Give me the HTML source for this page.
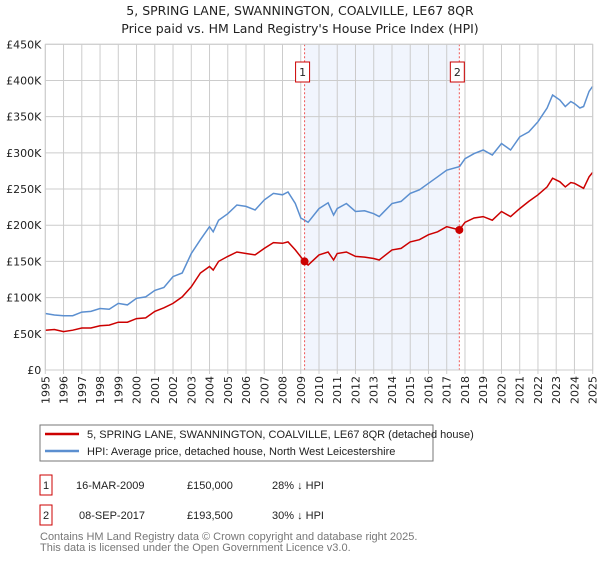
<!DOCTYPE html>
<html><head><meta charset="utf-8"><style>
body{margin:0;background:#fff;font-family:"Liberation Sans","DejaVu Sans",sans-serif;}
svg text{font-family:"DejaVu Sans","Liberation Sans",sans-serif;}
svg text.lib{font-family:"Liberation Sans","DejaVu Sans",sans-serif;}
</style></head><body>
<svg width="600" height="560" viewBox="0 0 600 560" xmlns="http://www.w3.org/2000/svg">
<text x="300" y="15" text-anchor="middle" font-size="12.5" fill="#222">5, SPRING LANE, SWANNINGTON, COALVILLE, LE67 8QR</text>
<text x="300" y="33" text-anchor="middle" font-size="12.5" fill="#222">Price paid vs. HM Land Registry's House Price Index (HPI)</text>
<g id="plot"></g>
<g>
<rect x="40" y="425" width="393" height="36" fill="#fff" stroke="#777"/>
<line x1="45" y1="434" x2="79" y2="434" stroke="#cc0000" stroke-width="2.5"/>
<text class="lib" x="87" y="438" font-size="11" fill="#222">5, SPRING LANE, SWANNINGTON, COALVILLE, LE67 8QR (detached house)</text>
<line x1="45" y1="451" x2="79" y2="451" stroke="#5b8fd0" stroke-width="2.5"/>
<text class="lib" x="87" y="455" font-size="11" fill="#222">HPI: Average price, detached house, North West Leicestershire</text>
</g>
<g font-size="11" fill="#222">
<rect x="40" y="475" width="12" height="20" fill="#fff" stroke="#cc0000"/>
<text class="lib" x="46" y="489" text-anchor="middle">1</text>
<text class="lib" x="76" y="489">16-MAR-2009</text><text class="lib" x="187" y="489">£150,000</text><text class="lib" x="272" y="489">28% ↓ HPI</text>
<rect x="40" y="505" width="12" height="20" fill="#fff" stroke="#cc0000"/>
<text class="lib" x="46" y="519" text-anchor="middle">2</text>
<text class="lib" x="79" y="519">08-SEP-2017</text><text class="lib" x="187" y="519">£193,500</text><text class="lib" x="272" y="519">30% ↓ HPI</text>
</g>
<text class="lib" x="40" y="540" font-size="11" fill="#777">Contains HM Land Registry data © Crown copyright and database right 2025.</text>
<text class="lib" x="40" y="551" font-size="11" fill="#777">This data is licensed under the Open Government Licence v3.0.</text>
</svg>
<script>
const hpiYears=[1995,1995.5,1996,1996.5,1997,1997.5,1998,1998.5,1999,1999.5,2000,2000.5,2001,2001.5,2002,2002.5,2003,2003.5,2004,2004.2,2004.5,2005,2005.5,2006,2006.5,2007,2007.5,2008,2008.3,2008.7,2009,2009.4,2010,2010.5,2010.8,2011,2011.5,2012,2012.5,2013,2013.3,2014,2014.5,2015,2015.5,2016,2016.5,2017,2017.7,2018,2018.5,2019,2019.5,2020,2020.5,2021,2021.5,2022,2022.5,2022.8,2023.2,2023.5,2023.8,2024,2024.3,2024.5,2024.8,2025];
const hpiValues=[78,76,75,75,80,81,85,84,92,90,99,101,110,114,129,134,161,180,198,191,207,216,228,226,221,235,244,242,246,230,210,204,223,231,214,223,230,219,220,216,212,230,233,244,249,258,267,276,281,292,299,304,297,313,304,322,329,343,362,380,373,364,371,368,362,364,385,392];
const ppYears=[1995,1995.5,1996,1996.5,1997,1997.5,1998,1998.5,1999,1999.5,2000,2000.5,2001,2001.5,2002,2002.5,2003,2003.5,2004,2004.2,2004.5,2005,2005.5,2006,2006.5,2007,2007.5,2008,2008.3,2008.7,2009.2,2009.4,2010,2010.5,2010.8,2011,2011.5,2012,2012.5,2013,2013.3,2014,2014.5,2015,2015.5,2016,2016.5,2017,2017.69,2018,2018.5,2019,2019.5,2020,2020.5,2021,2021.5,2022,2022.5,2022.8,2023.2,2023.5,2023.8,2024,2024.5,2024.8,2025];
const ppValues=[55,56,53,55,58,58,61,62,66,66,71,72,81,86,92,101,115,134,143,138,150,157,163,161,159,168,176,175,177,166,150,145,159,163,152,161,163,157,156,154,152,166,168,177,180,187,191,198,193.5,204,210,212,207,219,212,223,233,242,253,265,260,253,259,258,251,267,273];
const saleYears=[2009.21,2017.69];
const saleValues=[150,193.5];
const saleLabels=["1","2"];
const yTicks=[0,50,100,150,200,250,300,350,400,450];
const yTickLabels=["£0","£50K","£100K","£150K","£200K","£250K","£300K","£350K","£400K","£450K"];
const xTicks=[1995,1996,1997,1998,1999,2000,2001,2002,2003,2004,2005,2006,2007,2008,2009,2010,2011,2012,2013,2014,2015,2016,2017,2018,2019,2020,2021,2022,2023,2024,2025];

const NS="http://www.w3.org/2000/svg";
const L=45.3,R=592.7,T=44.3,B=370;
const xs=y=>L+(y-1995)/30*(R-L);
const ys=v=>B-v/450*(B-T);
const g=document.getElementById('plot');
function mk(tag,attrs,parent){const e=document.createElementNS(NS,tag);for(const k in attrs)e.setAttribute(k,attrs[k]);(parent||g).appendChild(e);return e;}
const shade=mk('rect',{x:xs(saleYears[0]),y:T,width:xs(saleYears[1])-xs(saleYears[0]),height:B-T,fill:'#eef3fc',opacity:0.8});


yTicks.forEach((v,i)=>{
  const l=mk('line',{x1:L,x2:R,y1:ys(v),y2:ys(v),stroke:'#ccc','stroke-width':1});
  
  
  const t=mk('text',{x:L-4,y:ys(v)+4,'text-anchor':'end','font-size':11,fill:'#222'});
  t.textContent=yTickLabels[i];
  
  
});
xTicks.forEach(y=>{
  const l=mk('line',{x1:xs(y),x2:xs(y),y1:T,y2:B+4,stroke:'#ccc','stroke-width':1});
  
  
  const t=mk('text',{x:0,y:0,'text-anchor':'end','font-size':11,fill:'#222',transform:`translate(${xs(y)+4},${B+6}) rotate(-90)`});
  t.textContent=String(y);
  
  
});
function path(xa,va){return xa.map((y,i)=>(i?'L':'M')+xs(y).toFixed(1)+','+ys(va[i]).toFixed(1)).join(' ');}
const hp=mk('path',{d:path(hpiYears,hpiValues),fill:'none',stroke:'#5b8fd0','stroke-width':1.5});


const pp=mk('path',{d:path(ppYears,ppValues),fill:'none',stroke:'#cc0000','stroke-width':1.5});


saleYears.forEach((y,i)=>{
  const vl=mk('line',{x1:xs(y),x2:xs(y),y1:T,y2:B,stroke:'#ee5555','stroke-width':1,'stroke-dasharray':'2,2'});
  
  
  const c=mk('circle',{cx:xs(y),cy:ys(saleValues[i]),r:4,fill:'#cc0000'});
  
  
  const bx=mk('rect',{x:xs(y)-9,y:62,width:14,height:20,fill:'#fff',stroke:'#cc0000'});
  
  
  const t=mk('text',{x:xs(y)-2,y:76,'text-anchor':'middle','font-size':11,fill:'#222'});
  t.textContent=saleLabels[i];
  
  
});
const ax=mk('rect',{x:L,y:T,width:R-L,height:B-T,fill:'none',stroke:'#ccc'});


</script>
</body></html>
